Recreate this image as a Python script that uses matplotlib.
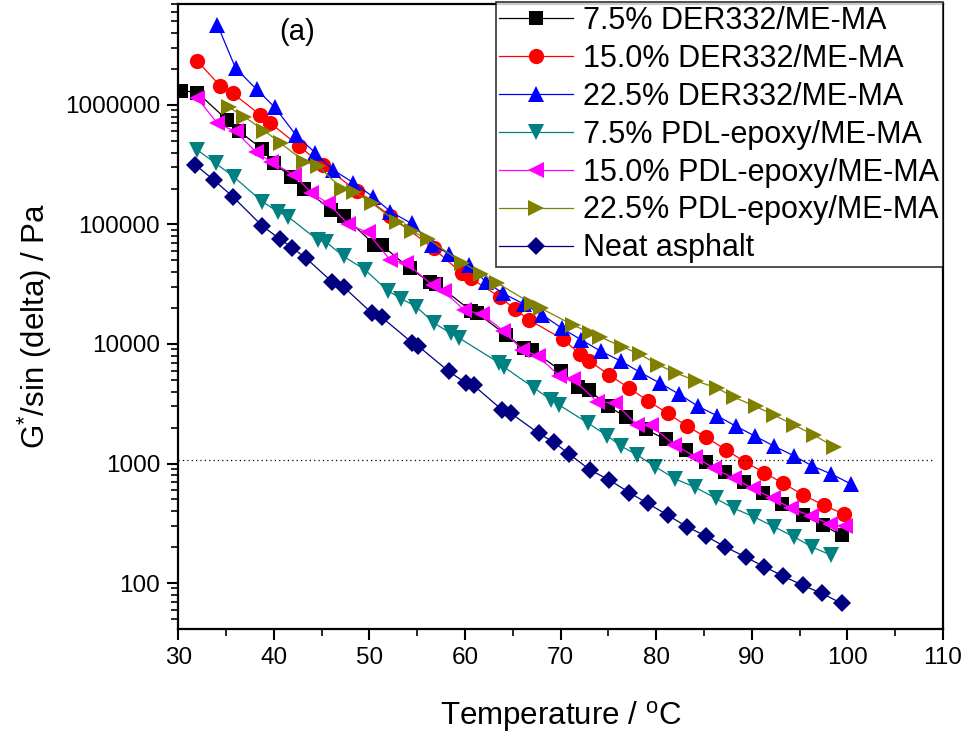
import matplotlib
matplotlib.use("Agg")
import matplotlib.pyplot as plt
from matplotlib.ticker import FuncFormatter, LogLocator, MultipleLocator, NullFormatter

plt.rcParams["font.family"] = ["Liberation Sans", "DejaVu Sans"]
plt.rcParams["mathtext.fontset"] = "custom"
plt.rcParams["mathtext.rm"] = "Liberation Sans"
plt.rcParams["mathtext.it"] = "Liberation Sans"

# 7.5% DER332/ME-MA
t_der75 = [30.3, 32.0, 35.1, 36.4, 38.8, 40.0, 41.8, 43.2, 46.0, 47.3, 50.5, 51.3, 54.2, 56.3,
           57.0, 60.6, 61.2, 64.3, 66.2, 67.0, 70.0, 71.8, 73.0, 75.0, 76.8, 78.9, 81.0, 83.1,
           85.2, 87.2, 89.2, 91.2, 93.2, 95.3, 97.4, 99.4]
g_der75 = [1320000, 1270000, 750000, 600000, 427000, 325000, 252000, 200000, 132000, 118000,
           68000, 67000, 43000, 33000, 32000, 19000, 18300, 11900, 9200, 8900, 6000, 4400, 4100,
           3000, 2460, 1930, 1590, 1300, 1030, 854, 705, 563, 458, 371, 305, 251]

# 15.0% DER332/ME-MA
t_der15 = [32.0, 34.4, 35.7, 38.6, 39.6, 42.6, 45.1, 48.7, 52.2, 56.7, 59.7, 60.6, 63.7, 65.2,
           66.7, 70.2, 72.0, 73.0, 75.1, 77.2, 79.1, 81.2, 83.2, 85.2, 87.3, 89.3, 91.3, 93.3,
           95.4, 97.5, 99.6]
g_der15 = [2330000, 1440000, 1250000, 825000, 711000, 454000, 315000, 190000, 118000, 63000,
           39000, 35500, 24500, 19600, 15900, 11000, 8300, 7200, 5500, 4260, 3360, 2630, 2060,
           1660, 1300, 1030, 837, 682, 544, 449, 378]

# 22.5% DER332/ME-MA
t_der22 = [34.1, 36.0, 38.2, 40.1, 42.3, 44.3, 46.2, 48.3, 50.4, 52.2, 54.4, 56.5, 58.3, 60.4,
           62.2, 64.0, 66.2, 68.1, 70.1, 72.1, 74.2, 76.3, 78.3, 80.4, 82.4, 84.4, 86.4, 88.3,
           90.3, 92.3, 94.4, 96.3, 98.3, 100.4]
g_der22 = [4680000, 2030000, 1350000, 955000, 561000, 400000, 286000, 224000, 170000, 128000,
           102000, 68000, 57000, 46000, 33000, 26500, 21500, 17500, 13600, 10900, 8700, 7200,
           5800, 4700, 3800, 3000, 2500, 2060, 1700, 1400, 1160, 955, 817, 673]

# 7.5% PDL-epoxy/ME-MA
t_pdl75 = [32.0, 33.9, 35.8, 38.8, 40.4, 41.5, 44.6, 45.5, 47.3, 49.5, 51.9, 53.3, 54.9, 56.8,
           58.5, 59.4, 63.5, 64.1, 67.2, 69.0, 69.8, 72.9, 74.9, 76.3, 78.0, 79.9, 82.0, 84.1,
           86.2, 88.1, 90.2, 92.3, 94.4, 96.3, 98.3]
g_pdl75 = [420000, 325000, 251000, 155000, 128000, 116000, 74000, 71000, 54000, 42000, 28000,
           24000, 20500, 14900, 12300, 11200, 7000, 6400, 4300, 3400, 3100, 2170, 1700, 1400,
           1180, 940, 742, 632, 512, 422, 359, 296, 244, 200, 171]

# 15.0% PDL-epoxy/ME-MA
t_pdl15 = [32.0, 34.1, 36.0, 38.1, 39.7, 42.1, 43.9, 45.7, 47.8, 49.8, 52.2, 53.8, 56.6, 57.8,
           59.9, 61.8, 64.0, 66.0, 67.6, 69.8, 71.3, 73.8, 75.7, 78.0, 79.4, 81.9, 84.1, 86.0,
           88.1, 90.1, 92.2, 94.1, 96.2, 98.2, 99.7]
g_pdl15 = [1140000, 700000, 600000, 406000, 335000, 260000, 185000, 150000, 100000, 86000,
           50000, 48000, 31000, 27500, 19300, 17700, 12900, 8900, 8000, 5450, 5100, 3300, 3200,
           2100, 2100, 1430, 1140, 912, 752, 618, 512, 422, 364, 310, 300]

# 22.5% PDL-epoxy/ME-MA
t_pdl22 = [35.3, 36.9, 39.0, 40.7, 43.2, 44.6, 47.1, 48.4, 50.3, 52.9, 54.4, 56.1, 59.7, 61.7,
           63.3, 67.0, 67.9, 71.3, 73.1, 74.1, 76.4, 78.3, 80.2, 82.1, 84.2, 86.4, 88.1, 90.4,
           92.3, 94.4, 96.5, 98.6]
g_pdl22 = [955000, 796000, 609000, 479000, 336000, 310000, 200000, 187000, 150000, 104000,
           88000, 76000, 48000, 38800, 32600, 21700, 20000, 14400, 12400, 11500, 9500, 8200,
           6700, 5700, 4900, 4260, 3600, 3000, 2550, 2100, 1730, 1380]

# Neat asphalt
t_neat = [31.8, 33.7, 35.7, 38.8, 40.6, 41.9, 43.4, 46.1, 47.3, 50.3, 51.3, 54.5, 55.1, 58.3,
          60.1, 60.9, 63.9, 64.8, 67.7, 69.3, 70.9, 73.1, 75.1, 77.2, 79.1, 81.2, 83.2, 85.2,
          87.2, 89.4, 91.3, 93.3, 95.3, 97.3, 99.4]
g_neat = [315000, 236000, 171000, 97000, 76000, 64000, 52000, 33000, 30000, 18000, 16700,
          10200, 9600, 5900, 4700, 4500, 2800, 2630, 1790, 1500, 1200, 880, 728, 570, 464, 370,
          296, 247, 201, 164, 137, 114, 96, 82, 67.6]

series = [
    (t_der75, g_der75, "7.5% DER332/ME-MA", "#000000", "s", 10),
    (t_der15, g_der15, "15.0% DER332/ME-MA", "#ff0000", "o", 11),
    (t_der22, g_der22, "22.5% DER332/ME-MA", "#0000ff", "^", 12),
    (t_pdl75, g_pdl75, "7.5% PDL-epoxy/ME-MA", "#008080", "v", 12),
    (t_pdl15, g_pdl15, "15.0% PDL-epoxy/ME-MA", "#ff00ff", "<", 12),
    (t_pdl22, g_pdl22, "22.5% PDL-epoxy/ME-MA", "#808000", ">", 12),
    (t_neat, g_neat, "Neat asphalt", "#000080", "D", 9),
]

fig = plt.figure(figsize=(9.61, 7.35), dpi=100)
ax = fig.add_axes([0.1855, 0.1438, 0.7958, 0.8508])

for t, g, label, color, marker, ms in series:
    ax.plot(t, g, color=color, marker=marker, markersize=ms, linewidth=0.9,
            markeredgewidth=0, label=label)

# 1 kPa criterion line
ax.axhline(1080, xmin=0, xmax=0.985, color="black", linestyle=(0, (1, 2.5)), linewidth=0.9)

ax.set_yscale("log")
ax.set_xlim(30, 110)
ax.set_ylim(41, 7.0e6)

ax.xaxis.set_major_locator(MultipleLocator(10))
ax.xaxis.set_minor_locator(MultipleLocator(5))
ax.yaxis.set_major_locator(LogLocator(base=10, numticks=20))
ax.yaxis.set_minor_locator(LogLocator(base=10, subs=range(2, 10), numticks=20))
ax.yaxis.set_major_formatter(FuncFormatter(lambda y, pos: f"{int(round(y))}"))
ax.yaxis.set_minor_formatter(NullFormatter())

ax.tick_params(which="major", direction="out", length=8, width=1.5, labelsize=17.5, pad=5,
               top=False, right=False)
ax.tick_params(which="minor", direction="out", length=5, width=1.2, top=False, right=False)
for sp in ax.spines.values():
    sp.set_linewidth(1.6)

ax.set_xlabel("Temperature / $^\\mathregular{o}$C", fontsize=22.5, labelpad=21)
ax.set_ylabel("G$^\\mathregular{*}$/sin (delta) / Pa", fontsize=22.5)
ax.yaxis.set_label_coords(-0.162, 0.485)

fig.text(297 / 961, 1 - 32 / 735, "(a)", fontsize=21, ha="center", va="center")

leg = ax.legend(loc="upper right", bbox_to_anchor=(1.0, 1.003), borderaxespad=0,
                fontsize=22, frameon=True, fancybox=False, handlelength=2.4,
                handletextpad=0.35, labelspacing=0.26, borderpad=0.12)
leg.get_frame().set_edgecolor("black")
leg.get_frame().set_linewidth(1.2)

# keep the last x tick label inside the picture
fig.canvas.draw()
last = ax.get_xticklabels()[-1]
last.set_horizontalalignment("right")
last.set_x(110)
import matplotlib.transforms as mtransforms
last.set_transform(last.get_transform() + mtransforms.ScaledTranslation(19 / 100, 0, fig.dpi_scale_trans))

fig.savefig("out.png", dpi=100, facecolor="white")
